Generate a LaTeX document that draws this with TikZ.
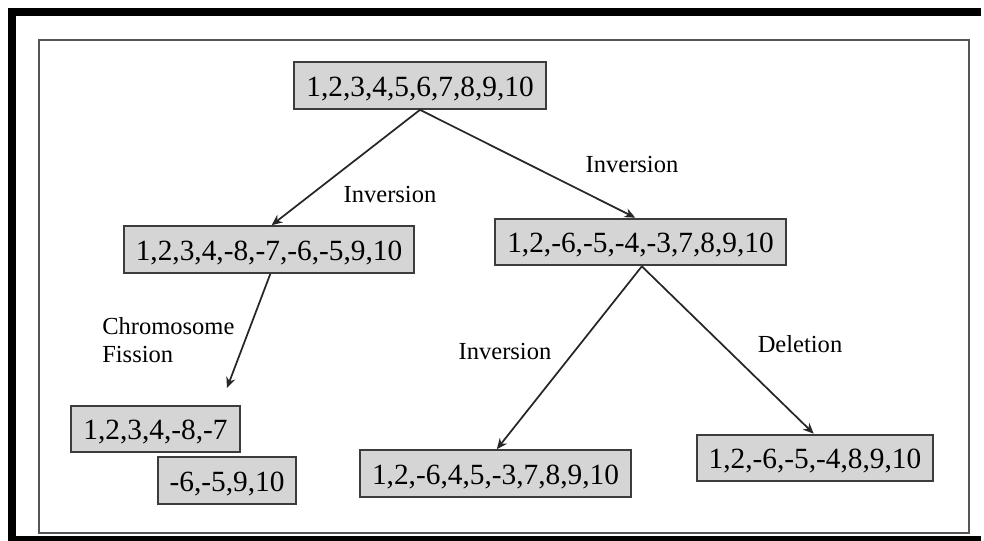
\documentclass[tikz,border=0pt]{standalone}
\usepackage{fontspec}
\setmainfont{Liberation Serif}
\usetikzlibrary{positioning,arrows.meta,calc}
\definecolor{genFill}{RGB}{213,213,213}
\definecolor{genEdge}{RGB}{60,60,60}
\definecolor{genFrame}{RGB}{85,85,85}
\tikzset{
  gen/box/.style={draw=genEdge, fill=genFill, line width=1.5pt, inner xsep=9pt,
                  inner ysep=0pt, minimum height=35pt, text height=16pt, text depth=0pt,
                  font=\fontsize{22pt}{26pt}\selectfont},
  gen/arrow/.style={-{Stealth[length=8pt, width=7pt]}, line width=1.3pt, draw=black!85},
  gen/lbl/.style={font=\fontsize{18.4pt}{21pt}\selectfont, align=left, inner sep=0pt},
}

\begin{document}
\begin{tikzpicture}[x=0.75pt, y=-0.75pt]
  \useasboundingbox (0,0) rectangle (984,541);

  % ---------------- frames ----------------
  % the outer black frame is open on the right
  \draw[line width=6pt] (981,12) -- (12,12) -- (12,540) -- (981,540);
  \draw[genFrame, line width=1.5pt] (39,40) rectangle (969,533);

  % ---------------- genomes ----------------
  \node[gen/box] (root) at (420,85.5) {1,2,3,4,5,6,7,8,9,10};
  \node[gen/box] (invA) at (269,249.5) {1,2,3,4,-8,-7,-6,-5,9,10};
  \node[gen/box] (invB) at (640.5,242) {1,2,-6,-5,-4,-3,7,8,9,10};
  \node[gen/box] (fisA) at (155.5,429) {1,2,3,4,-8,-7};
  \node[gen/box] (fisB) at (227,480.5) {-6,-5,9,10};
  \node[gen/box] (invC) at (495.5,473.5) {1,2,-6,4,5,-3,7,8,9,10};
  \node[gen/box] (del)  at (815,458) {1,2,-6,-5,-4,8,9,10};

  % ---------------- operations ----------------
  \coordinate (fisEnd) at (227,388);
  \draw[gen/arrow] (root.south) -- ([xshift=2pt]invA.north);
  \draw[gen/arrow] (root.south) -- ([xshift=-4pt]invB.north);
  \draw[gen/arrow] ([xshift=1pt]invA.south) -- (fisEnd);
  \draw[gen/arrow] ([xshift=1pt]invB.south) -- ([xshift=1pt]invC.north);
  \draw[gen/arrow] ([xshift=1pt]invB.south) -- ([xshift=-1pt]del.north);

  % ---------------- labels ----------------
  \node[gen/lbl, anchor=base] (lblA) at (390,203) {Inversion};
  \node[gen/lbl, anchor=base] (lblB) at (632,173) {Inversion};
  \node[gen/lbl, anchor=west] (lblF) at (102,340) {Chromosome\\Fission};
  \node[gen/lbl, anchor=base] (lblC) at (505,359) {Inversion};
  \node[gen/lbl, anchor=base] (lblD) at (800,352) {Deletion};

\end{tikzpicture}
\end{document}
